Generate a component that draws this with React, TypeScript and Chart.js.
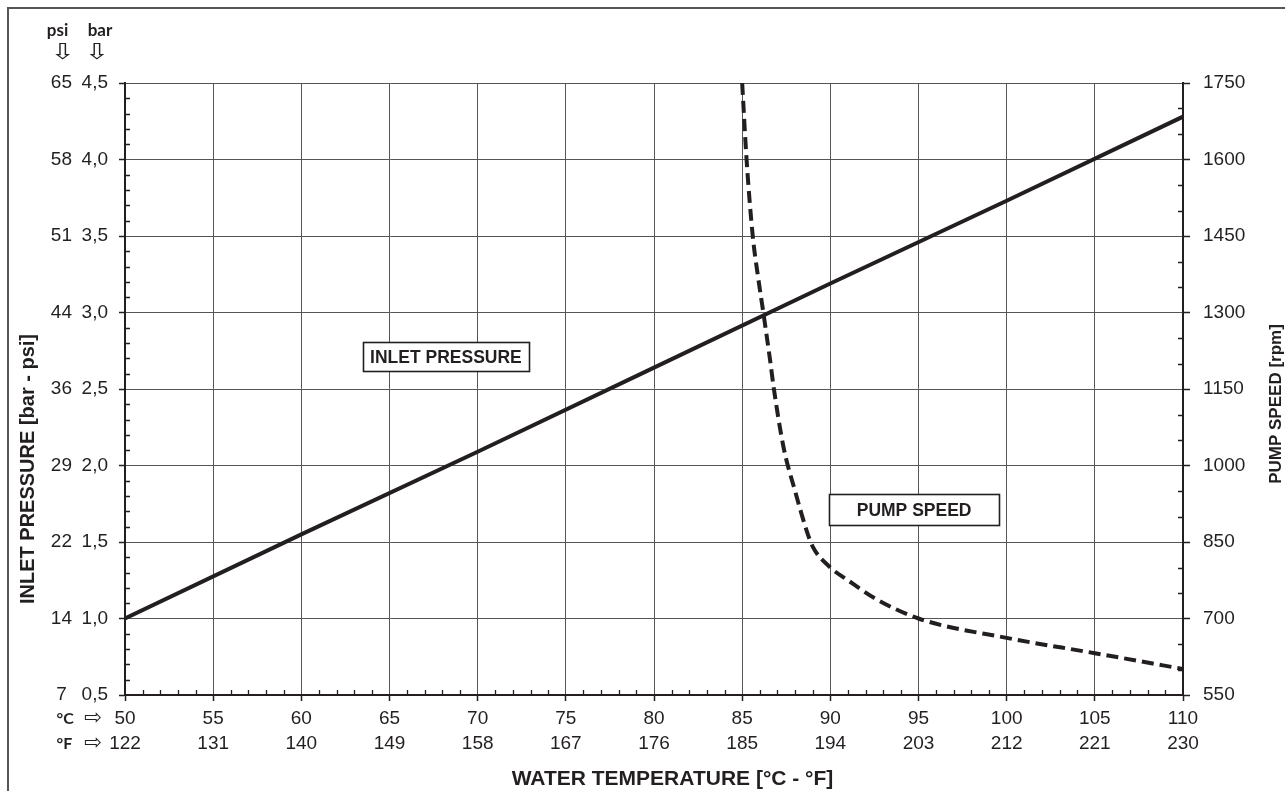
import React, { useEffect, useRef } from 'react';
import { Chart, registerables } from 'chart.js';

Chart.register(...registerables);

// ---- data ----
const fahrenheitLabels = ['122', '131', '140', '149', '158', '167', '176', '185', '194', '203', '212', '221', '230'];
const barLabels = ['0,5', '1,0', '1,5', '2,0', '2,5', '3,0', '3,5', '4,0', '4,5'];
const psiLabels = ['7', '14', '22', '29', '36', '44', '51', '58', '65'];

const inletTemps = [50, 60, 70, 80, 90, 100, 110];
const inletBar = [1.0, 1.55, 2.09, 2.64, 3.19, 3.73, 4.28];

const pumpTemps = [85.0, 85.25, 85.6, 85.9, 86.2, 86.55, 86.8, 87.35, 88.0, 88.65, 89.0, 90.0, 91.0, 92.5, 95.0, 100.0, 105.0, 110.0];
const pumpRpm = [1750, 1600, 1450, 1370, 1300, 1215, 1150, 1035, 950, 873, 841, 800, 775, 740, 700, 662, 632, 601];

// ---- styling / annotation config ----
const INK = '#231f20';
const GRID = '#555555';
const FONT = "'Liberation Sans', Arial, sans-serif";

const annotations = [
  { text: 'INLET PRESSURE', t: 68.2, bar: 2.71, w: 166, h: 29 },
  { text: 'PUMP SPEED', t: 94.75, bar: 1.71, w: 170, h: 31 },
];

const overlayPlugin = {
  id: 'overlay',
  afterDatasetsDraw(chart: any) {
    const ctx = chart.ctx as CanvasRenderingContext2D;
    const area = chart.chartArea;
    const sx = chart.scales.x;
    const sy = chart.scales.y;
    const sr = chart.scales.yr;
    ctx.save();

    // minor ticks (inside)
    ctx.strokeStyle = INK;
    ctx.lineWidth = 1.3;
    ctx.beginPath();
    for (let v = 51; v < 110; v++) {
      if (v % 5 === 0) continue;
      const px = Math.round(sx.getPixelForValue(v)) + 0.5;
      ctx.moveTo(px, area.bottom);
      ctx.lineTo(px, area.bottom - 5);
    }
    for (let k = 1; k < 40; k++) {
      if (k % 5 === 0) continue;
      const py = Math.round(sy.getPixelForValue(0.5 + k * 0.1)) + 0.5;
      ctx.moveTo(area.left, py);
      ctx.lineTo(area.left + 5, py);
    }
    for (let v = 600; v < 1750; v += 50) {
      if ((v - 550) % 150 === 0) continue;
      const py = Math.round(sr.getPixelForValue(v)) + 0.5;
      ctx.moveTo(area.right, py);
      ctx.lineTo(area.right - 5, py);
    }
    ctx.stroke();

    // annotation boxes
    for (const a of annotations) {
      const cx = sx.getPixelForValue(a.t);
      const cy = sy.getPixelForValue(a.bar);
      const x0 = Math.round(cx - a.w / 2) + 0.5;
      const y0 = Math.round(cy - a.h / 2) + 0.5;
      ctx.fillStyle = '#ffffff';
      ctx.fillRect(x0, y0, a.w, a.h);
      ctx.strokeStyle = INK;
      ctx.lineWidth = 1.6;
      ctx.strokeRect(x0, y0, a.w, a.h);
      ctx.fillStyle = INK;
      ctx.font = `bold 17.5px ${FONT}`;
      ctx.textAlign = 'center';
      ctx.textBaseline = 'middle';
      ctx.fillText(a.text, cx, cy + 1);
    }

    // axis titles
    ctx.fillStyle = INK;
    ctx.font = `bold 21px ${FONT}`;
    ctx.textAlign = 'center';
    ctx.textBaseline = 'alphabetic';
    ctx.fillText('WATER TEMPERATURE [°C - °F]', 672.5, 785);

    ctx.save();
    ctx.translate(28.5, 469);
    ctx.rotate(-Math.PI / 2);
    ctx.font = `bold 20px ${FONT}`;
    ctx.textBaseline = 'middle';
    ctx.fillText('INLET PRESSURE [bar - psi]', 0, 0);
    ctx.restore();

    ctx.save();
    ctx.translate(1276, 404);
    ctx.rotate(-Math.PI / 2);
    ctx.font = `bold 17px ${FONT}`;
    ctx.textBaseline = 'middle';
    ctx.fillText('PUMP SPEED [rpm]', 0, 0);
    ctx.restore();

    // unit headers
    ctx.font = "bold 17px Lato, 'Liberation Sans', sans-serif";
    ctx.textAlign = 'center';
    ctx.textBaseline = 'alphabetic';
    ctx.fillText('psi', 57.5, 36);
    ctx.fillText('bar', 100, 36);
    ctx.font = "22px 'DejaVu Sans', sans-serif";
    ctx.textBaseline = 'middle';
    for (const ax of [62.5, 96.7]) {
      ctx.save();
      ctx.translate(ax, 53);
      ctx.scale(1.35, 1);
      ctx.fillText('⇩', 0, 0);
      ctx.restore();
    }

    // °C / °F row markers
    const rowC = area.bottom + 24;
    const rowF = area.bottom + 49;
    ctx.textAlign = 'left';
    ctx.textBaseline = 'middle';
    ctx.font = "bold 16px Lato, 'Liberation Sans', sans-serif";
    ctx.fillText('°C', 56.5, rowC);
    ctx.fillText('°F', 56.5, rowF);
    ctx.font = "21px 'DejaVu Sans', sans-serif";
    ctx.fillText('⇨', 84, rowC);
    ctx.fillText('⇨', 84, rowF);

    ctx.restore();
  },
};

export default function App() {
  const canvasRef = useRef<HTMLCanvasElement>(null);

  useEffect(() => {
    if (!canvasRef.current) return;
    Chart.defaults.font.family = FONT;
    Chart.defaults.color = INK;

    const chart = new Chart(canvasRef.current, {
      type: 'line',
      data: {
        datasets: [
          {
            label: 'Inlet pressure',
            data: inletTemps.map((t, i) => ({ x: t, y: inletBar[i] })),
            yAxisID: 'y',
            borderColor: INK,
            borderWidth: 4,
            pointRadius: 0,
            fill: false,
            tension: 0,
          },
          {
            label: 'Pump speed',
            data: pumpTemps.map((t, i) => ({ x: t, y: pumpRpm[i] })),
            yAxisID: 'yr',
            borderColor: INK,
            borderWidth: 4,
            borderDash: [12, 6],
            pointRadius: 0,
            fill: false,
            cubicInterpolationMode: 'monotone',
          },
        ],
      },
      options: {
        responsive: false,
        animation: false,
        layout: { padding: { top: 83, left: 0, right: 0, bottom: 0 } },
        plugins: {
          legend: { display: false },
          tooltip: { enabled: false },
          title: { display: false },
        },
        scales: {
          x: {
            type: 'linear',
            position: 'bottom',
            min: 50,
            max: 110,
            afterFit: (s: any) => { s.height = 96; },
            ticks: {
              stepSize: 5,
              autoSkip: false,
              maxRotation: 0,
              padding: 5.5,
              color: INK,
              font: { size: 19, lineHeight: 25 / 19 },
              callback: (v: any, i: number) => [String(v), fahrenheitLabels[i]],
            },
            grid: { color: GRID, lineWidth: 1, tickLength: 6, tickColor: INK, tickWidth: 1.5 },
            border: { color: INK, width: 2 },
          },
          y: {
            type: 'linear',
            axis: 'y',
            position: 'left',
            weight: 0,
            min: 0.5,
            max: 4.5,
            afterFit: (s: any) => { s.width = 47; },
            ticks: {
              stepSize: 0.5,
              padding: 11,
              color: INK,
              font: { size: 19 },
              callback: (v: any, i: number) => barLabels[i],
            },
            grid: { color: GRID, lineWidth: 1, tickLength: 6, tickColor: INK, tickWidth: 1.5 },
            border: { color: INK, width: 2 },
          },
          psi: {
            type: 'linear',
            axis: 'y',
            position: 'left',
            weight: 1,
            min: 0.5,
            max: 4.5,
            afterFit: (s: any) => { s.width = 78; },
            ticks: {
              stepSize: 0.5,
              padding: 6,
              crossAlign: 'center',
              color: INK,
              font: { size: 19 },
              callback: (v: any, i: number) => psiLabels[i],
            },
            grid: { display: false, drawTicks: false },
            border: { display: false },
          },
          yr: {
            type: 'linear',
            axis: 'y',
            position: 'right',
            min: 550,
            max: 1750,
            afterFit: (s: any) => { s.width = 102; },
            ticks: {
              stepSize: 150,
              padding: 13,
              color: INK,
              font: { size: 19 },
              callback: (v: any) => String(v),
            },
            grid: { drawOnChartArea: false, color: INK, tickLength: 7, tickColor: INK, tickWidth: 1.5 },
            border: { color: INK, width: 2 },
          },
        },
      } as any,
      plugins: [overlayPlugin],
    });

    return () => chart.destroy();
  }, []);

  return (
    <div style={{ position: 'fixed', left: 0, top: 0, width: 1285, height: 791, overflow: 'hidden', background: '#fff' }}>
      <canvas
        ref={canvasRef}
        width={1285}
        height={791}
        style={{ position: 'absolute', left: 0, top: 0, width: 1285, height: 791, display: 'block' }}
      />
      <div
        style={{
          position: 'absolute',
          left: 7,
          top: 7,
          width: 1400,
          height: 900,
          borderTop: '2px solid #555',
          borderLeft: '2px solid #555',
          pointerEvents: 'none',
        }}
      />
    </div>
  );
}
